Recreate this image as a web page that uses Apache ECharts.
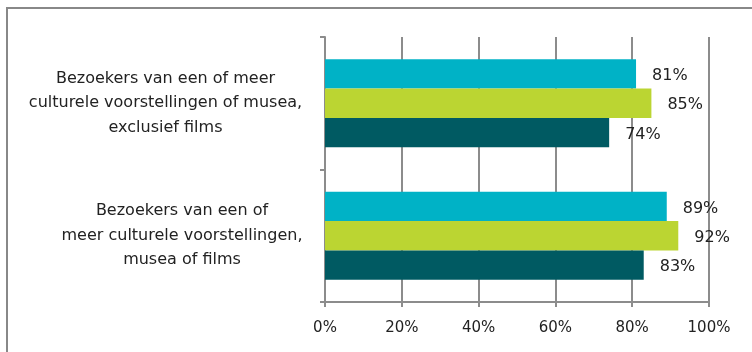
<!DOCTYPE html>
<html>
<head>
<meta charset="utf-8">
<script src="https://cdn.jsdelivr.net/npm/echarts@6/dist/echarts.min.js"></script>
<style>
  html, body { margin: 0; padding: 0; background: #fff; }
  #chart { width: 752px; height: 352px; }
</style>
</head>
<body>
<div id="chart"></div>
<script>
// Visitor groups, listed from top to bottom
const categories = [
  'Bezoekers van een of meer\nculturele voorstellingen of musea,\nexclusief films',
  'Bezoekers van een of\nmeer culturele voorstellingen,\nmusea of films'
];
// Shares (%) per group, one array per bar colour (top, middle, bottom bar)
const seriesCyan = [81, 89];
const seriesLime = [85, 92];
const seriesDark = [74, 83];
// Value axis tick labels
const xTicks = ['0%', '20%', '40%', '60%', '80%', '100%'];

const FONT = 'DejaVu Sans, sans-serif';
const GREY = '#8c8c8c';
const TEXT = '#222';

// rich-text block per category so each label's lines are centred within its block
const richKeys = ['t', 'b'];

function barSeries(name, data, color) {
  return {
    name: name,
    type: 'bar',
    data: data,
    barGap: 0,
    barCategoryGap: '33.6%',
    itemStyle: { color: color },
    label: {
      show: true,
      position: 'right',
      distance: 16,
      offset: [0, 2],
      formatter: p => p.value + '%',
      fontFamily: FONT,
      fontSize: 16,
      color: TEXT
    },
    z: 2
  };
}

const chart = echarts.init(document.getElementById('chart'), null, { renderer: 'canvas' });
chart.setOption({
  animation: false,
  backgroundColor: '#fff',
  graphic: [{
    type: 'rect',
    shape: { x: 7, y: 8, width: 800, height: 400 },
    style: { fill: 'none', stroke: '#888', lineWidth: 2 },
    silent: true
  }],
  grid: { left: 325, right: 43, top: 37, bottom: 50, containLabel: false },
  xAxis: {
    type: 'value',
    min: 0,
    max: 100,
    interval: 20,
    axisLine: { show: true, lineStyle: { color: GREY, width: 2 } },
    axisTick: { show: true, length: 5, lineStyle: { color: GREY, width: 2 } },
    splitLine: { show: true, lineStyle: { color: GREY, width: 2 } },
    axisLabel: {
      margin: 19,
      formatter: v => xTicks[Math.round(v / 20)],
      fontFamily: FONT,
      fontSize: 15,
      color: TEXT
    }
  },
  yAxis: {
    type: 'category',
    inverse: true,
    data: categories,
    axisLine: { show: true, lineStyle: { color: GREY, width: 2 } },
    axisTick: { show: true, length: 5, lineStyle: { color: GREY, width: 2 } },
    splitLine: { show: false },
    axisLabel: {
      margin: 18,
      align: 'right',
      formatter: (v, i) => '{' + richKeys[i] + '|' + v + '}',
      rich: {
        t: { width: 283, align: 'center', fontFamily: FONT, fontSize: 16, lineHeight: 24.5, color: TEXT },
        b: { width: 250, align: 'center', fontFamily: FONT, fontSize: 16, lineHeight: 24.5, color: TEXT }
      }
    }
  },
  series: [
    barSeries('cyan', seriesCyan, '#00b2c6'),
    barSeries('lime', seriesLime, '#bbd532'),
    barSeries('dark', seriesDark, '#005a62')
  ]
});
</script>
</body>
</html>
